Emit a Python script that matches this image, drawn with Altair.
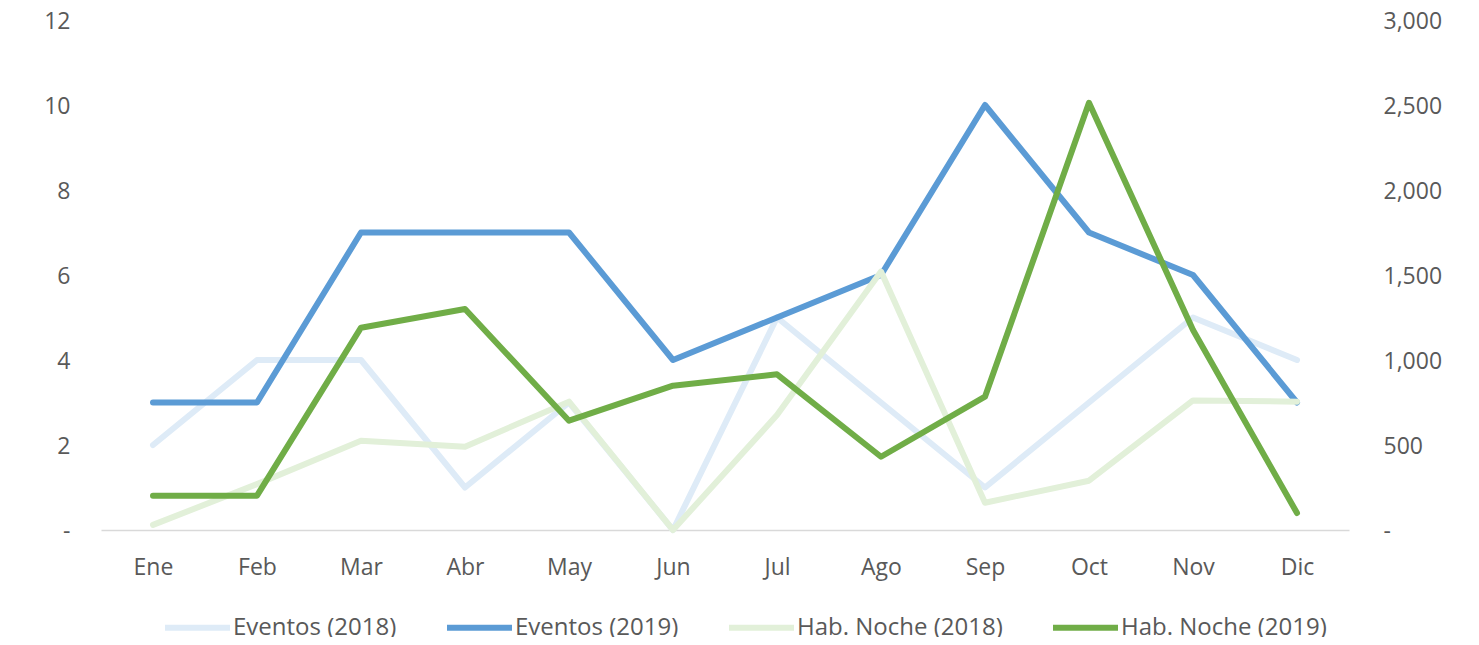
import altair as alt
import pandas as pd

meses = ["Ene", "Feb", "Mar", "Abr", "May", "Jun", "Jul", "Ago", "Sep", "Oct", "Nov", "Dic"]
series = ["Eventos (2018)", "Eventos (2019)", "Hab. Noche (2018)", "Hab. Noche (2019)"]
colores = ["#DEEBF7", "#5B9BD5", "#E2F0D9", "#70AD47"]

eventos_2018 = [2, 4, 4, 1, 3, 0, 5, 3, 1, 3, 5, 4]
eventos_2019 = [3, 3, 7, 7, 7, 4, 5, 6, 10, 7, 6, 3]
hab_2018 = [30, 270, 525, 490, 755, 0, 676, 1520, 160, 290, 762, 755]
hab_2019 = [202, 202, 1190, 1300, 643, 849, 916, 431, 784, 2513, 1176, 100]

rows = []
for name, vals in zip(series, [eventos_2018, eventos_2019, hab_2018, hab_2019]):
    for m, v in zip(meses, vals):
        rows.append({"mes": m, "serie": name, "valor": v})
df = pd.DataFrame(rows)

FONT = "Open Sans"
GRAY = "#595959"

x = alt.X(
    "mes:N",
    sort=meses,
    scale=alt.Scale(type="point", padding=0.5),
    axis=alt.Axis(
        title=None, ticks=False, tickSize=0, labelPadding=26, labelAngle=0,
        domainColor="#D9D9D9", domainWidth=1.5, grid=False,
        labelFont=FONT, labelFontSize=23, labelColor=GRAY,
    ),
)

color = alt.Color(
    "serie:N",
    scale=alt.Scale(domain=series, range=colores),
    legend=alt.Legend(
        title=None, orient="none", direction="horizontal",
        legendX=61, legendY=572, symbolType="stroke", symbolSize=4225,
        symbolStrokeWidth=6, labelOffset=0, columnPadding=38, labelLimit=0,
        labelFont=FONT, labelFontSize=24, labelColor=GRAY, padding=0,
    ),
)

base = alt.Chart(df)

def line(name, y):
    return base.transform_filter(alt.datum.serie == name).mark_line(
        strokeWidth=6, strokeCap="round", strokeJoin="round"
    ).encode(x=x, y=y, color=color)

y_left = alt.Y(
    "valor:Q",
    scale=alt.Scale(domain=[0, 12], nice=False),
    axis=alt.Axis(
        title=None, orient="left", values=[0, 2, 4, 6, 8, 10, 12], grid=False,
        domain=False, ticks=False, tickSize=0, labelPadding=31, labelOffset=1,
        labelExpr="datum.value == 0 ? '-\u00a0\u00a0\u00a0' : datum.label",
        labelFont=FONT, labelFontSize=23, labelColor=GRAY,
    ),
)
y_right = alt.Y(
    "valor:Q",
    scale=alt.Scale(domain=[0, 3000], nice=False),
    axis=alt.Axis(
        title=None, orient="right", values=[0, 500, 1000, 1500, 2000, 2500, 3000],
        grid=False, domain=False, ticks=False, tickSize=0, labelPadding=34, labelOffset=1,
        labelExpr="datum.value == 0 ? '-' : format(datum.value, ',')",
        labelFont=FONT, labelFontSize=23, labelColor=GRAY,
    ),
)

left = alt.layer(line(series[0], y_left), line(series[1], y_left))
right = alt.layer(line(series[2], y_right), line(series[3], y_right))

chart = alt.layer(left, right).resolve_scale(y="independent").properties(
    width=1248, height=510,
    autosize=alt.AutoSizeParams(type="none"),
    padding={"left": 93, "top": 12, "right": 110, "bottom": 107},
).configure_view(stroke=None)

chart.save("out.html", embed_options={"renderer": "svg", "actions": False})
